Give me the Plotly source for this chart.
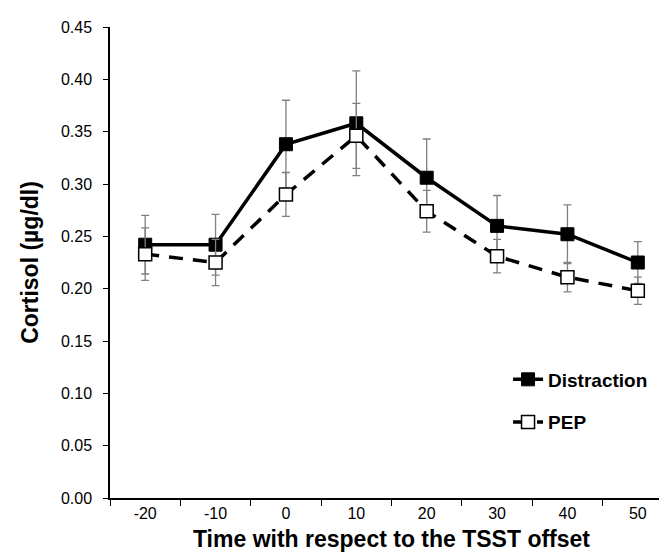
import plotly.graph_objects as go

times = ["-20", "-10", "0", "10", "20", "30", "40", "50"]
distraction = [0.242, 0.242, 0.338, 0.358, 0.306, 0.260, 0.252, 0.225]
distraction_err = [0.028, 0.029, 0.042, 0.050, 0.037, 0.029, 0.028, 0.020]
pep = [0.233, 0.225, 0.290, 0.346, 0.274, 0.231, 0.211, 0.198]
pep_err = [0.025, 0.022, 0.021, 0.031, 0.020, 0.016, 0.014, 0.013]
y_ticks = [0.00, 0.05, 0.10, 0.15, 0.20, 0.25, 0.30, 0.35, 0.40, 0.45]

FONT = "Liberation Sans, Arial, sans-serif"
err_style = dict(type="data", thickness=1.3, width=4, color="#808080")

fig = go.Figure()
fig.add_trace(go.Scatter(
    x=times, y=distraction, name="Distraction", mode="lines+markers",
    line=dict(color="black", width=3.5),
    marker=dict(symbol="square", size=13, color="black", line=dict(color="black", width=1)),
    error_y=dict(array=distraction_err, **err_style),
    legendgroup="a",
))
fig.add_trace(go.Scatter(
    x=times, y=pep, name="PEP", mode="lines+markers",
    line=dict(color="black", width=3.5, dash="14px,10px"),
    marker=dict(symbol="square", size=13, color="white", line=dict(color="black", width=1.5)),
    error_y=dict(array=pep_err, **err_style),
    legendgroup="b",
))

fig.update_layout(
    width=667, height=553,
    margin=dict(l=102, r=2, t=19, b=63),
    plot_bgcolor="white", paper_bgcolor="white",
    font=dict(family=FONT, color="black", size=16),
    showlegend=True,
    legend=dict(x=0.707, y=0.292, xanchor="left", yanchor="top",
                font=dict(family=FONT, size=19, color="black", weight="bold"),
                tracegroupgap=15, bgcolor="rgba(0,0,0,0)"),
)
fig.update_xaxes(
    type="category", range=[-0.5, 7.5],
    showline=True, linecolor="black", linewidth=1.5,
    ticks="outside", ticklen=6, tickcolor="black", tickwidth=1,
    tickson="boundaries", showgrid=False, zeroline=False,
    tickfont=dict(family=FONT, size=16, color="black"),
    title=dict(text="Time with respect to the TSST offset",
               font=dict(family=FONT, size=23, color="black", weight="bold"),
               standoff=10),
)
fig.update_yaxes(
    range=[0, 0.45], tickvals=y_ticks, tickformat=".2f",
    showline=True, linecolor="black", linewidth=1.5,
    ticks="outside", ticklen=5, tickcolor="black", tickwidth=1,
    ticklabelstandoff=8,
    showgrid=False, zeroline=False,
    tickfont=dict(family=FONT, size=16, color="black"),
    title=dict(text="Cortisol (µg/dl)",
               font=dict(family=FONT, size=23, color="black", weight="bold"),
               standoff=16),
)

fig.write_html("out.html")
